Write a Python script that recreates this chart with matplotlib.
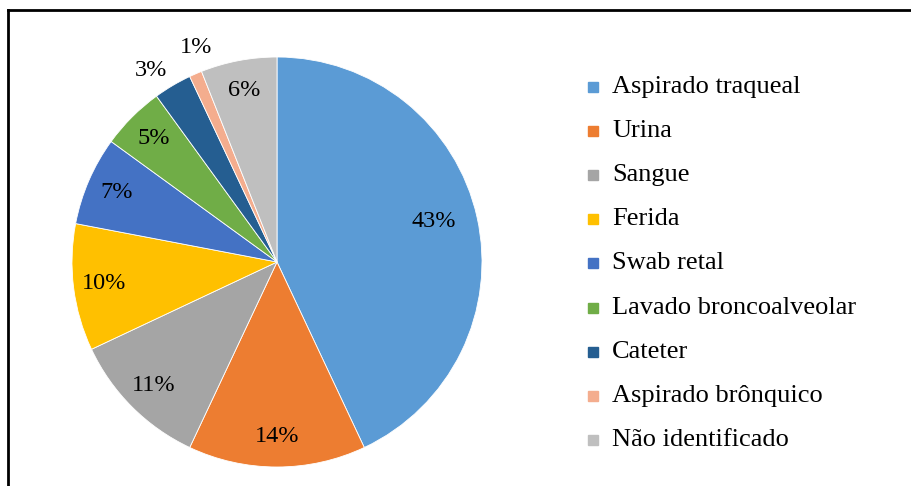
import matplotlib.pyplot as plt
import numpy as np

plt.rcParams['font.family'] = ['Liberation Serif', 'DejaVu Serif']

categories = ['Aspirado traqueal', 'Urina', 'Sangue', 'Ferida', 'Swab retal',
              'Lavado broncoalveolar', 'Cateter', 'Aspirado brônquico', 'Não identificado']
values = [43, 14, 11, 10, 7, 5, 3, 1, 6]
colors = ['#5B9BD5', '#ED7D31', '#A5A5A5', '#FFC000', '#4472C4',
          '#70AD47', '#255E91', '#F4AD8E', '#BFBFBF']

W, H = 912, 486
fig = plt.figure(figsize=(W / 100, H / 100), dpi=100)

# pie centre ~ (277, 262) px, radius ~ 205 px
cx, cy, r = 277, 262, 205
ax = fig.add_axes([(cx - r) / W, (H - cy - r) / H, 2 * r / W, 2 * r / H])
wedges, texts, autotexts = ax.pie(values, colors=colors, startangle=90, counterclock=False,
                                  autopct='%1.0f%%', pctdistance=0.85, radius=1,
                                  wedgeprops=dict(edgecolor='white', linewidth=0.6),
                                  textprops=dict(fontsize=17.5, color='black'))
ax.set_xlim(-1, 1)
ax.set_ylim(-1, 1)
ax.set_aspect('equal')

# big slice label sits a bit closer to the centre
w0 = wedges[0]
a0 = np.deg2rad((w0.theta1 + w0.theta2) / 2 + 2)
autotexts[0].set_position((0.79 * np.cos(a0), 0.79 * np.sin(a0)))

# small slices get their label outside, spread apart
shift = {6: 2.7, 7: -2.7}
for i, (w, t) in enumerate(zip(wedges, autotexts)):
    if i in shift:
        ang = np.deg2rad((w.theta1 + w.theta2) / 2 + shift[i])
        t.set_position((1.12 * np.cos(ang), 1.12 * np.sin(ang)))

# legend
leg_x = 588 / W
for i, (lab, c) in enumerate(zip(categories, colors)):
    y = 1 - (87 + i * 44.1) / H
    fig.patches.append(plt.Rectangle((leg_x, y - 5 / H), 10 / W, 10 / H,
                                     transform=fig.transFigure, color=c))
    fig.text(612 / W, y, lab, fontsize=19, va='center', ha='left')

# frame (top and left only visible)
fig.add_artist(plt.Line2D([8 / W, 1], [1 - 10 / H, 1 - 10 / H], color='black', lw=2))
fig.add_artist(plt.Line2D([8 / W, 8 / W], [0, 1 - 10 / H], color='black', lw=2))

fig.savefig('out.png', dpi=100)
